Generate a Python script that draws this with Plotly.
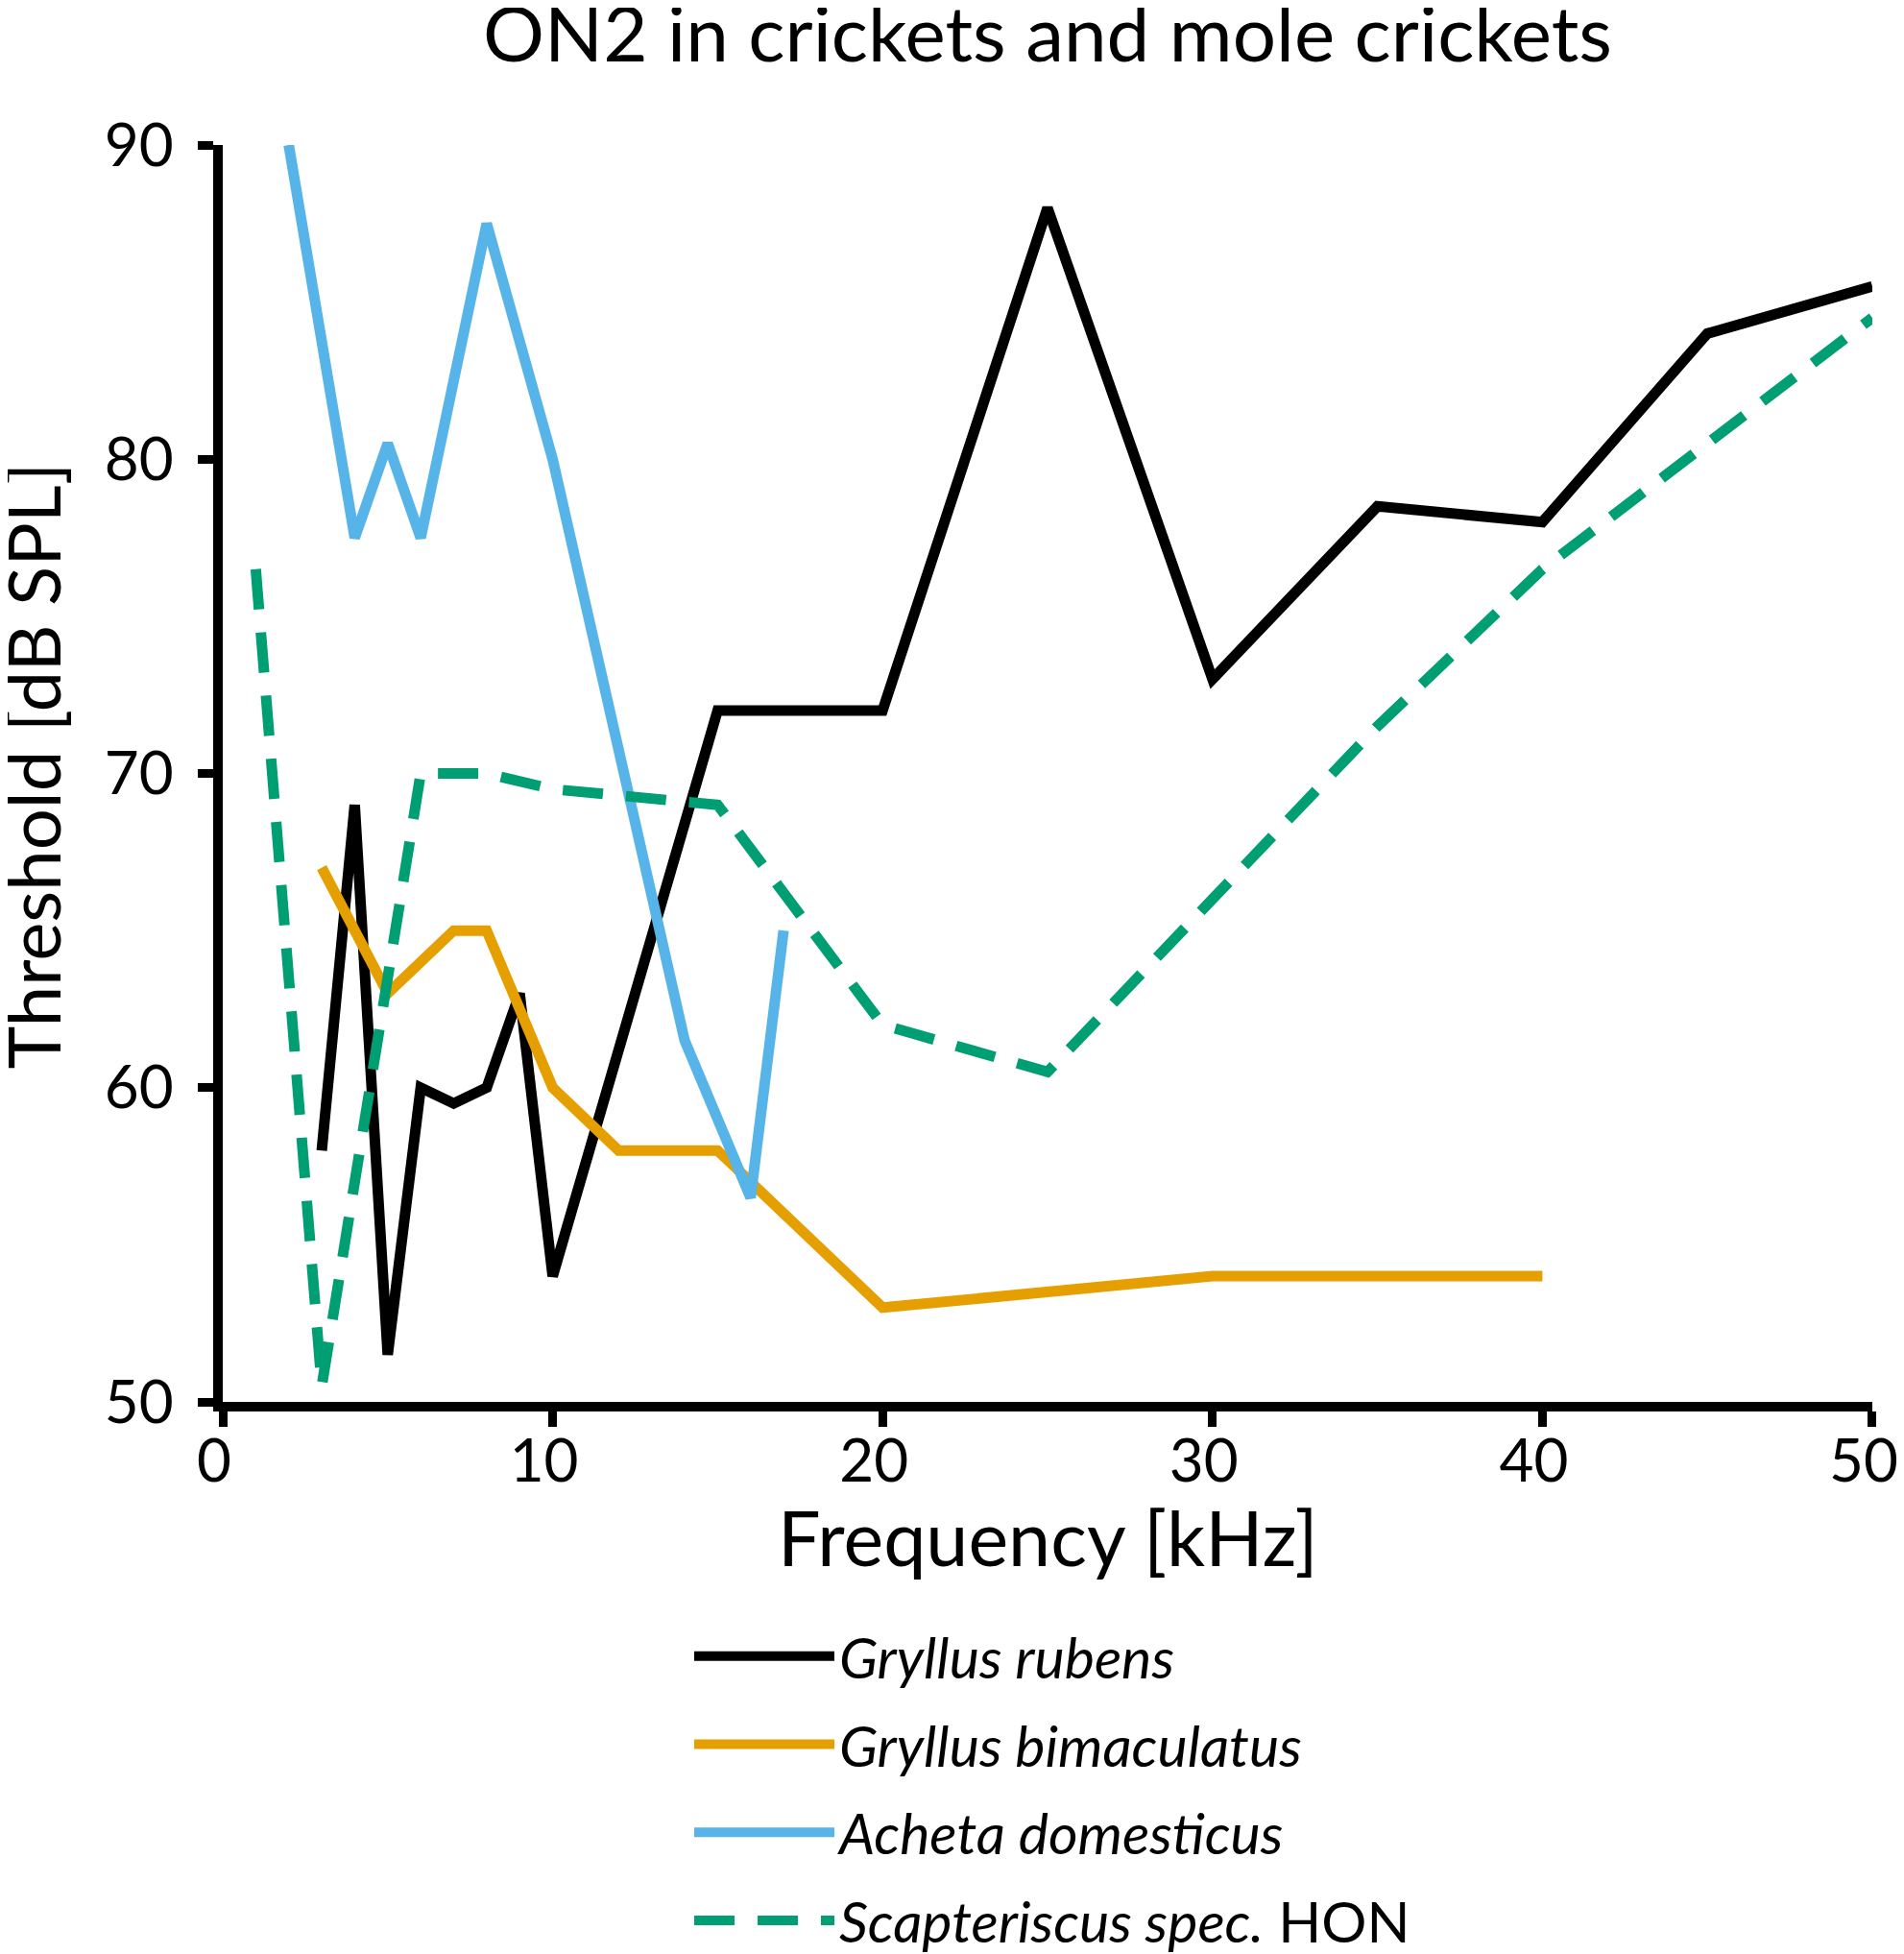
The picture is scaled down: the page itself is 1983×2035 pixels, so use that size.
import plotly.graph_objects as go

# ---- data ----
freq_rubens = [3, 4, 5, 6, 7, 8, 9, 10, 15, 20, 25, 30, 35, 40, 45, 50]
thr_rubens = [58, 69, 51.5, 60, 59.5, 60, 63, 54, 72, 72, 88, 73, 78.5, 78, 84, 85.5]

freq_bimac = [3, 5, 7, 8, 10, 12, 15, 20, 30, 40]
thr_bimac = [67, 63, 65, 65, 60, 58, 58, 53, 54, 54]

freq_acheta = [2, 4, 5, 6, 8, 10, 14, 16, 17]
thr_acheta = [90, 77.5, 80.5, 77.5, 87.5, 80, 61.5, 56.5, 65]

freq_scap = [1, 3, 6, 8, 10, 15, 20, 25, 30, 35, 40, 45, 50]
thr_scap = [76.5, 50.5, 70, 70, 69.5, 69, 62, 60.5, 66, 71.5, 76.5, 80.5, 84.5]

series_names = [
    "<i>Gryllus rubens</i>",
    "<i>Gryllus bimaculatus</i>",
    "<i>Acheta domesticus</i>",
    "<i>Scapteriscus spec.</i> HON",
]
x_ticks = [0, 10, 20, 30, 40, 50]
y_ticks = [50, 60, 70, 80, 90]

FONT = "Lato"
W, H = 1983, 2035
ML, MR, MT, MB = 224, 41, 143, 583

fig = go.Figure()
specs = [
    (freq_rubens, thr_rubens, "#000000", "solid"),
    (freq_bimac, thr_bimac, "#E69F00", "solid"),
    (freq_acheta, thr_acheta, "#56B4E9", "solid"),
    (freq_scap, thr_scap, "#009E73", "42px,24px"),
]
for i, ((xs, ys, col, dash), name) in enumerate(zip(specs, series_names)):
    fig.add_trace(go.Scatter(
        x=xs, y=ys, mode="lines", name=name, legendgroup=f"g{i}",
        line=dict(color=col, width=11, dash=dash),
        cliponaxis=False,
    ))

axis_common = dict(
    showline=True, linecolor="black", linewidth=10,
    ticks="outside", ticklen=16, tickwidth=9, tickcolor="black",
    showgrid=False, zeroline=False,
    tickfont=dict(size=62, family=FONT, color="black"),
)

fig.update_layout(
    width=W, height=H,
    margin=dict(l=ML, r=MR, t=MT, b=MB, autoexpand=False),
    paper_bgcolor="white", plot_bgcolor="white",
    font=dict(family=FONT, color="black"),
    title=dict(
        text="ON2 in crickets and mole crickets",
        x=0.5, xref="paper", xanchor="center",
        y=1 - 28 / H, yref="container", yanchor="middle",
        font=dict(size=80, family=FONT, color="black"),
    ),
    xaxis=dict(
        range=[0, 50.0005], tickvals=x_ticks, ticktext=[str(v) for v in x_ticks],
        ticklabelstandoff=-17, ticklabelshift=-9,
        showline=True,
        **{k: v for k, v in axis_common.items() if k != "showline"},
    ),
    yaxis=dict(
        range=[50, 90], tickvals=y_ticks, ticktext=[str(v) for v in y_ticks],
        ticklabelstandoff=13,
        **axis_common,
    ),
    annotations=[
        dict(
            text="Threshold [dB SPL]", textangle=-90,
            xref="paper", x=0, xshift=-199, xanchor="center",
            yref="paper", y=0.5, yshift=8, yanchor="middle",
            showarrow=False, font=dict(size=76, family=FONT, color="black"),
        ),
        dict(
            text="Frequency [kHz]",
            xref="paper", x=0.5, xanchor="center",
            yref="paper", y=0, yshift=-140, yanchor="middle",
            showarrow=False, font=dict(size=79, family=FONT, color="black"),
        ),
    ],
    showlegend=True,
    legend=dict(
        xref="container", yref="container",
        x=710 / W, xanchor="left",
        y=1 - 1672 / H, yanchor="top",
        font=dict(size=59, family=FONT, color="black"),
        itemwidth=146, tracegroupgap=12,
        bgcolor="rgba(0,0,0,0)",
    ),
)

fig.write_html("out.html")
